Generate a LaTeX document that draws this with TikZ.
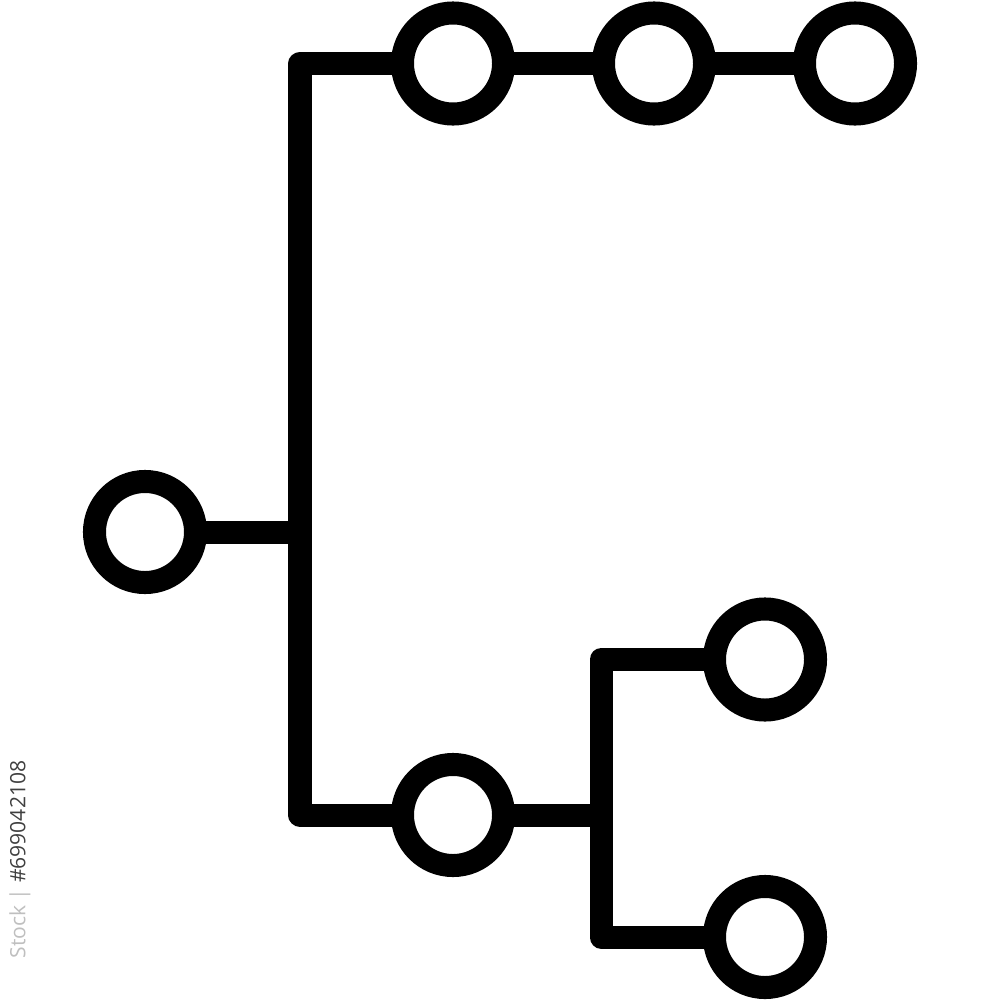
\documentclass[tikz,border=0pt]{standalone}
\usepackage{fontspec}
\setsansfont{Open Sans}
\usetikzlibrary{backgrounds}
\begin{document}
\begin{tikzpicture}[x=0.01cm,y=-0.01cm,
  dot/.style={circle,draw=black,fill=white,line width=0.23cm,minimum size=1.01cm,inner sep=0pt},
  wire/.style={draw=black,line width=0.23cm,line join=round}]
\useasboundingbox (0,0) rectangle (1000,1000);
% nodes
\node[dot] (L)  at (145,532) {};
\node[dot] (c1) at (453,63.5) {};
\node[dot] (c2) at (654,63.5) {};
\node[dot] (c3) at (855,63.5) {};
\node[dot] (b1) at (453,815) {};
\node[dot] (s1) at (765,659.5) {};
\node[dot] (s2) at (765,937) {};
\coordinate (j1) at (300,532);
\coordinate (bc) at (300,815);
\coordinate (j2) at (601,815);
\coordinate (sb) at (601,937);
% connectors
\begin{scope}[on background layer]
\path[wire] (L.center) -- (j1);
\path[wire] (c1.center) -| (bc) -- (b1.center);
\path[wire] (c1.center) -- (c2.center);
\path[wire] (c2.center) -- (c3.center);
\path[wire] (b1.center) -- (j2);
\path[wire] (s1.center) -| (sb) -- (s2.center);
\end{scope}
% watermark id
\node[rotate=90,anchor=east,inner sep=0pt,text=black!75,font=\sffamily\fontsize{6pt}{7pt}\selectfont] (wm) at (20,760) {\textcolor{black!25}{Stock |} \#699042108};
\end{tikzpicture}
\end{document}
